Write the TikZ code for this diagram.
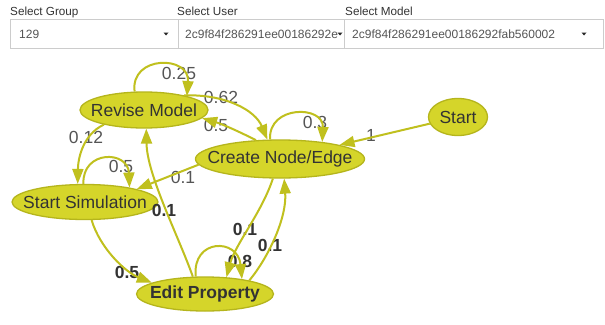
\documentclass[tikz,border=0pt]{standalone}
\usepackage{fontspec}
\setmainfont{Liberation Sans}
\usetikzlibrary{shapes.geometric,arrows.meta}
\definecolor{nfill}{HTML}{D5D52A}
\definecolor{nborder}{HTML}{B5B51C}
\definecolor{ecol}{HTML}{C0C01E}
\definecolor{ntext}{HTML}{333333}
\definecolor{ltext}{HTML}{555555}
\definecolor{boxline}{HTML}{CCCCCC}
\tikzset{
  gnode/.style={ellipse, fill=nfill, draw=nborder, line width=1.3pt, inner sep=0pt},
  ntxt/.style={text=ntext, font=\fontsize{17.5}{20}\selectfont, inner sep=0pt},
  btxt/.style={text=ntext, font=\fontsize{17.5}{20}\selectfont\bfseries, inner sep=0pt},
  elab/.style={text=ltext, font=\fontsize{17.5}{20}\selectfont, inner sep=0pt},
  blab/.style={text=ntext, font=\fontsize{17.5}{20}\selectfont\bfseries, inner sep=0pt},
  edge/.style={draw=ecol, line width=2pt, -{Triangle[length=15pt,width=11pt]}},
  hdr/.style={text=ntext, font=\fontsize{11.7}{14}\selectfont, inner sep=0pt, anchor=base west},
  boxtxt/.style={text=ltext, font=\fontsize{12}{14}\selectfont, inner sep=0pt, anchor=base west},
  selbox/.style={draw=boxline, line width=1pt, rectangle, inner sep=0pt, anchor=north west, minimum height=29pt},
  caret/.style={fill=black!85},
}
\begin{document}
\begin{tikzpicture}[x=1pt,y=-1pt]
\useasboundingbox[fill=white] (0,0) rectangle (605,324);
% header
\node[hdr] (lg) at (10,15.5) {Select Group};
\node[hdr] (lu) at (177,15.5) {Select User};
\node[hdr] (lm) at (345,15.5) {Select Model};
\node[selbox, minimum width=168pt] (b1) at (10,19) {};
\node[selbox, minimum width=166pt] (b2) at (178,19) {};
\node[selbox, minimum width=259pt] (b3) at (344,19) {};
\node[boxtxt] (t1) at (19,38) {129};
\begin{scope}
\clip (178,19) rectangle (343,48);
\node[boxtxt] (t2) at (185,38) {2c9f84f286291ee00186292e};
\end{scope}
\node[boxtxt] (t3) at (352,38) {2c9f84f286291ee00186292fab560002};
\fill[caret] (163.5,32.5) -- (168.5,32.5) -- (166,35.5) -- cycle;
\fill[caret] (337.5,32.5) -- (342.5,32.5) -- (340,35.5) -- cycle;
\fill[caret] (581.5,32.5) -- (586.5,32.5) -- (584,35.5) -- cycle;
% nodes
\node[gnode, minimum width=128pt, minimum height=36pt] (rm) at (144,110) {};
\node[gnode, minimum width=169pt, minimum height=38pt] (cn) at (280,159) {};
\node[gnode, minimum width=59pt, minimum height=37pt] (st) at (458,117) {};
\node[gnode, minimum width=146pt, minimum height=35pt] (ss) at (85,202) {};
\node[gnode, minimum width=137pt, minimum height=34pt] (ep) at (205,294) {};
\node[ntxt] (rmt) at (rm.center) {Revise Model};
\node[ntxt] (cnt) at (cn.center) {Create Node/Edge};
\node[ntxt] (stt) at (st.center) {Start};
\node[ntxt] (sst) at (ss.center) {Start Simulation};
\node[btxt] (ept) at (ep.center) {Edit Property};
% edge labels
\node[elab] (l1) at (179,73) {0.25};
\node[elab] (l2) at (221,97) {0.62};
\node[elab] (l3) at (216,125) {0.5};
\node[elab] (l4) at (315,122) {0.3};
\node[elab] (l5) at (371,135) {1};
\node[elab] (l6) at (86,137) {0.12};
\node[elab] (l7) at (121,166) {0.5};
\node[elab] (l8) at (183,177) {0.1};
\node[blab] (l9) at (164,210) {0.1};
\node[blab] (l10) at (127,272) {0.5};
\node[blab] (l11) at (245,229) {0.1};
\node[blab] (l12) at (270,245) {0.1};
\node[blab] (l13) at (240,261) {0.8};
% edges
\draw[edge] (st) -- (cn);
\draw[edge] (cn.117) .. controls (268,105) and (324,105) .. (cn.22);
\draw[edge] (rm.117) .. controls (130,55) and (190,55) .. (rm.18);
\draw[edge] (rm.20) .. controls (225,94) and (255,110) .. (cn.123);
\draw[edge] (cn.142) .. controls (240,132) and (222,124) .. (rm.352);
\draw[edge] (rm.200) .. controls (82,135) and (78,160) .. (ss.112);
\draw[edge] (ss.95) .. controls (82,150) and (128,150) .. (ss.18);
\draw[edge] (cn.184) -- (ss.14);
\draw[edge] (ss.290) .. controls (100,248) and (125,272) .. (ep.168);
\draw[edge] (ep.125) .. controls (178,235) and (147,175) .. (rm.277);
\draw[edge] (ep.118) .. controls (192,238) and (238,238) .. (ep.22);
\draw[edge] (cn.250) .. controls (262,212) and (235,245) .. (ep.38);
\draw[edge] (ep.17) .. controls (268,258) and (287,218) .. (cn.282);
\end{tikzpicture}
\end{document}
